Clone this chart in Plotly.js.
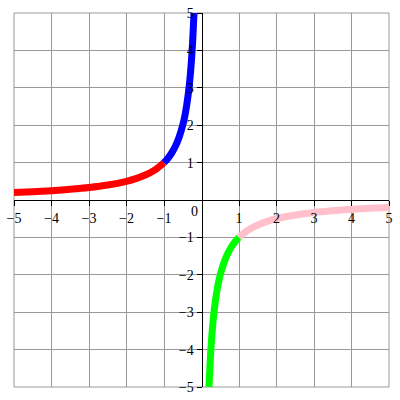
<!DOCTYPE html>
<html>
<head>
<meta charset="utf-8">
<script src="https://cdn.plot.ly/plotly-3.0.1.min.js"></script>
<style>
  html, body { margin: 0; padding: 0; background: #fff; }
  #plot { width: 400px; height: 400px; }
</style>
</head>
<body>
<div id="plot"></div>
<script>
// y = -1/x in four coloured pieces
const xRed = [-5, -4.5, -4, -3.5, -3, -2.5, -2, -1.75, -1.5, -1.25, -1];
const yRed = [0.2, 0.222, 0.25, 0.286, 0.333, 0.4, 0.5, 0.571, 0.667, 0.8, 1];

const xBlue = [-1, -0.9, -0.8, -0.7, -0.6, -0.5, -0.45, -0.4, -0.35, -0.3, -0.25, -0.2];
const yBlue = [1, 1.11, 1.25, 1.43, 1.67, 2, 2.22, 2.5, 2.86, 3.33, 4, 5];

const xGreen = [0.2, 0.25, 0.3, 0.35, 0.4, 0.45, 0.5, 0.6, 0.7, 0.8, 0.9, 1];
const yGreen = [-5, -4, -3.33, -2.86, -2.5, -2.22, -2, -1.67, -1.43, -1.25, -1.11, -1];

const xPink = [1, 1.25, 1.5, 1.75, 2, 2.5, 3, 3.5, 4, 4.5, 5];
const yPink = [-1, -0.8, -0.667, -0.571, -0.5, -0.4, -0.333, -0.286, -0.25, -0.222, -0.2];

const tickVals = [-5, -4, -3, -2, -1, 1, 2, 3, 4, 5];

const serif = "Times New Roman";

function piece(x, y, color) {
  return {
    x: x,
    y: y,
    mode: "lines",
    line: { color: color, width: 7, shape: "spline" },
    hoverinfo: "skip",
  };
}

const traces = [
  piece(xRed, yRed, "#ff0000"),
  piece(xBlue, yBlue, "#0000ff"),
  piece(xGreen, yGreen, "#00ff00"),
  piece(xPink, yPink, "#ffc0cb"),
];

const axisStyle = {
  range: [-5, 5],
  tickvals: tickVals,
  showgrid: true,
  gridcolor: "#999",
  gridwidth: 1,
  zeroline: false,
  showline: true,
  linecolor: "#000",
  linewidth: 1,
  ticks: "outside",
  ticklen: 5,
  tickcolor: "#000",
  anchor: "free",
  position: 0.5,
  tickfont: { family: serif, size: 14, color: "#000" },
};

const layout = {
  width: 400,
  height: 400,
  showlegend: false,
  paper_bgcolor: "#fff",
  plot_bgcolor: "#fff",
  font: { family: serif },
  margin: { l: 14, r: 11, t: 13, b: 13 },
  xaxis: Object.assign({}, axisStyle),
  yaxis: Object.assign({}, axisStyle),
  shapes: [
    {
      type: "rect", xref: "paper", yref: "paper",
      x0: 0, x1: 1, y0: 0, y1: 1,
      line: { color: "#999", width: 1 },
      layer: "below",
    },
  ],
  annotations: [
    {
      x: -0.18, y: -0.05, text: "0", showarrow: false,
      yanchor: "top",
      font: { family: serif, size: 14, color: "#000" },
    },
  ],
};

Plotly.newPlot("plot", traces, layout, { displayModeBar: false, staticPlot: true });
</script>
</body>
</html>
